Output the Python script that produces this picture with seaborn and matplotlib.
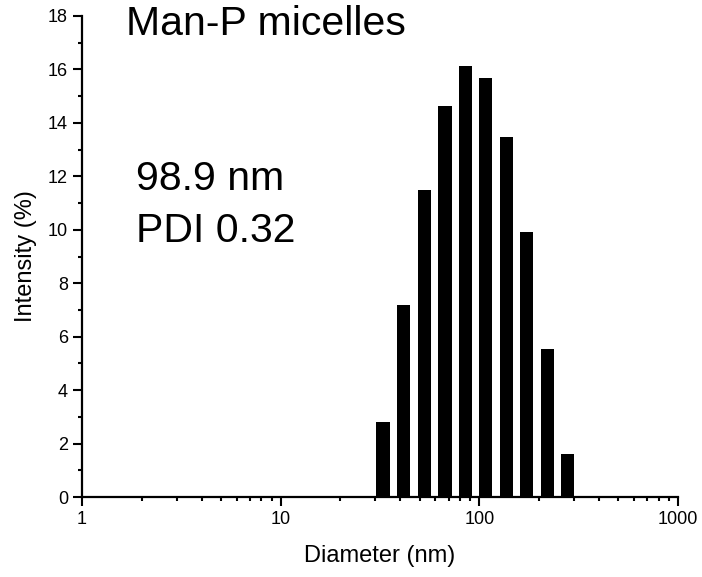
import numpy as np
import pandas as pd
import seaborn as sns
import matplotlib.pyplot as plt
from matplotlib.ticker import FixedLocator, LogLocator, MultipleLocator, NullFormatter

# Diametros (nm) e intensidade (%)
diameters = [32.7, 41.7, 52.8, 67.2, 85.2, 107.6, 137.1, 173.0, 220.1, 279.0]
intensity = [2.81, 7.17, 11.48, 14.65, 16.12, 15.67, 13.47, 9.90, 5.55, 1.62]
x_ticks = [1, 10, 100, 1000]
x_ticklabels = ['1', '10', '100', '1000']
y_ticks = [0, 2, 4, 6, 8, 10, 12, 14, 16, 18]

title = 'Man-P micelles'
size_label = '98.9 nm'
pdi_label = 'PDI 0.32'

df = pd.DataFrame({'diameter': diameters, 'intensity': intensity})

sns.set_theme(style='ticks')
plt.rcParams['font.family'] = ['Liberation Sans', 'DejaVu Sans']
plt.rcParams['text.color'] = 'black'
plt.rcParams['axes.labelcolor'] = 'black'

fig = plt.figure(figsize=(7.02, 5.77), dpi=100)
ax = fig.add_axes([82 / 702, 80 / 577, 596 / 702, 481 / 577])

sns.barplot(data=df, x='diameter', y='intensity', native_scale=True,
            log_scale=(True, False), width=0.66, color='black',
            edgecolor='none', saturation=1, ax=ax)

ax.set_xlim(1, 1000)
ax.set_ylim(0, 18)
ax.xaxis.set_major_locator(FixedLocator(x_ticks))
ax.set_xticklabels(x_ticklabels)
ax.xaxis.set_minor_locator(LogLocator(base=10, subs=np.arange(2, 10)))
ax.xaxis.set_minor_formatter(NullFormatter())
ax.set_yticks(y_ticks)
ax.yaxis.set_minor_locator(MultipleLocator(1))

for side in ['top', 'right']:
    ax.spines[side].set_visible(False)
for side in ['left', 'bottom']:
    ax.spines[side].set_linewidth(1.6)
    ax.spines[side].set_color('black')

ax.tick_params(which='major', direction='out', length=6.5, width=1.5,
               labelsize=13, colors='black', pad=3.5)
ax.tick_params(which='minor', direction='out', length=3.2, width=1.5, colors='black')

ax.set_xlabel('Diameter (nm)', fontsize=17, labelpad=12, color='black')
ax.set_ylabel('Intensity (%)', fontsize=17, labelpad=8, color='black')

fig.text(126 / 702, 1 - 35 / 577, title, fontsize=29.5, va='baseline', ha='left', color='black')
fig.text(136 / 702, 1 - 190 / 577, size_label, fontsize=29.5, va='baseline', ha='left', color='black')
fig.text(136 / 702, 1 - 242 / 577, pdi_label, fontsize=29.5, va='baseline', ha='left', color='black')

fig.savefig('out.png', dpi=100)
